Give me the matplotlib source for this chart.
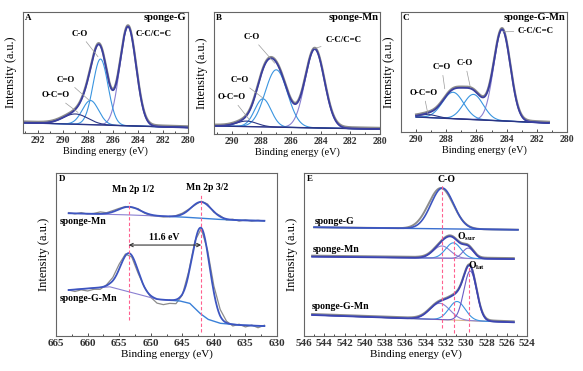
import numpy as np
import matplotlib
matplotlib.use("Agg")
import matplotlib.pyplot as plt
from matplotlib.ticker import MultipleLocator

plt.rcParams['font.family'] = ['Liberation Serif', 'DejaVu Serif']
plt.rcParams['font.weight'] = 'bold'
plt.rcParams['mathtext.fontset'] = 'custom'
plt.rcParams['mathtext.rm'] = 'Liberation Serif:bold'
plt.rcParams['mathtext.it'] = 'Liberation Serif:bold'
plt.rcParams['mathtext.bf'] = 'Liberation Serif:bold'

W, H = 583, 371

# ---------------- data ----------------
# A: sponge-G, C 1s  (peak centre eV, height, sigma eV)
a_span = (293.2, 280.0)
a_bg = (0.085, 0.045)
a_center = [284.8, 287.0, 287.8, 289.0]
a_height = [0.82, 0.545, 0.20, 0.085]
a_sigma = [0.65, 0.60, 0.65, 1.0]

# B: sponge-Mn, C 1s
b_span = (291.2, 280.0)
b_bg = (0.066, 0.040)
b_center = [284.4, 287.0, 287.9, 289.0]
b_height = [0.645, 0.47, 0.23, 0.045]
b_sigma = [0.65, 0.75, 0.55, 0.7]

# C: sponge-G-Mn, C 1s
c_span = (290.0, 281.2)
c_bg = (0.125, 0.075)
c_center = [284.3, 286.2, 287.55, 289.2]
c_height = [0.76, 0.21, 0.22, 0.025]
c_sigma = [0.55, 0.65, 0.70, 0.6]

c1s_labels = ["C-C/C=C", "C-O", "C=O", "O-C=O"]

# D: Mn 2p
d_top_bg_x = [663, 655, 650, 645, 640, 636, 632]
d_top_bg_y = [0.753, 0.745, 0.738, 0.730, 0.717, 0.710, 0.707]
d_top_center = [653.4, 642.0]
d_top_height = [0.05, 0.10]
d_top_sigma = [1.7, 1.6]

d_bot_bg_x = [663.0, 656.5, 653.5, 649.0, 645.4, 643.8, 642.2, 640.9, 639.0, 635.9, 632.0]
d_bot_bg_y = [0.282, 0.302, 0.272, 0.225, 0.215, 0.200, 0.139, 0.102, 0.078, 0.067, 0.061]
d_bot_center = [653.4, 642.0]
d_bot_height = [0.237, 0.53]
d_bot_sigma = [1.4, 1.35]

d_raw_x = np.arange(663, 631, -1)
d_top_resid = [0.004, -0.003, 0.006, -0.002, 0.003, 0.012, 0.004, 0.008,
               0.006, 0.004, -0.003, 0.005, -0.004, -0.006, -0.003, -0.005,
               -0.002, 0.003, 0.006, 0.004, -0.004, 0.005, 0.008, -0.004,
               0.006, -0.007, 0.004, -0.005, 0.003, -0.004, 0.002, -0.002]
d_bot_resid = [0.0, -0.012, -0.005, -0.015, -0.008, -0.012, 0.005, 0.02,
               0.03, 0.01, -0.01, -0.015, 0.0, -0.01, -0.025, -0.03,
               -0.02, -0.025, -0.005, 0.015, 0.01, -0.005, 0.02, 0.04,
               0.04, 0.01, -0.01, 0.005, -0.01, 0.003, -0.012, 0.005]

# E: O 1s
e_top_span = (545.0, 524.9)
e_top_bg = (0.667, 0.652)
e_top_fit = (532.35, 0.25, 1.12)
e_top_raw = (532.5, 0.25, 1.22)

e_mid_span = (545.2, 525.3)
e_mid_bg = (0.487, 0.472)
e_mid_center = [532.4, 531.27, 529.8]
e_mid_height = [0.075, 0.095, 0.064]
e_mid_sigma = [0.85, 0.75, 0.55]

e_bot_span = (545.2, 525.3)
e_bot_bg = (0.129, 0.084)
e_bot_center = [532.6, 530.9, 529.6]
e_bot_height = [0.10, 0.115, 0.305]
e_bot_sigma = [1.0, 0.8, 0.63]

# ---------------- helpers ----------------
GRAY = '#8c8c8c'
ENV = '#3b3f9f'
LAV = '#8a80d2'
BLUE = '#3a95e0'
NAVY = '#2a3585'
PINK = '#ff5f8f'


def box(l, t, r, b):
    return [l / W, 1 - b / H, (r - l) / W, (b - t) / H]


def peak(x, c, h, s):
    return h * np.exp(-(x - c) ** 2 / (2 * s ** 2))


def style(ax, xlim, major, minor, fs_tick, fs_xl, fs_yl, letter):
    ax.set_xlim(*xlim)
    ax.set_ylim(0, 1)
    ax.set_yticks([])
    ax.xaxis.set_major_locator(MultipleLocator(major))
    ax.xaxis.set_minor_locator(MultipleLocator(minor))
    ax.tick_params(axis='x', which='major', direction='in', length=2.5,
                   width=0.6, labelsize=fs_tick, pad=2, colors='#333')
    ax.tick_params(axis='x', which='minor', direction='in', length=1.3, width=0.5)
    for sp in ax.spines.values():
        sp.set_color('#666')
        sp.set_linewidth(0.8)
    ax.set_xlabel("Binding energy (eV)", fontsize=fs_xl, labelpad=1)
    ax.set_ylabel("Intensity (a.u.)", fontsize=fs_yl, labelpad=4)
    ax.text(0.012, 0.985, letter, transform=ax.transAxes, ha='left', va='top',
            fontsize=6.5)


def c1s(ax, span, bg, centers, heights, sigmas, colors):
    x = np.linspace(span[0], span[1], 600)
    base = np.linspace(bg[0], bg[1], x.size)
    comps = [peak(x, c, h, s) for c, h, s in zip(centers, heights, sigmas)]
    env = base + np.sum(comps, axis=0)
    ax.plot(x, env + 0.01, color=GRAY, lw=1.6)
    for comp, col in zip(comps, colors):
        ax.plot(x, base + comp, color=col, lw=0.8)
    ax.plot(x, base, color=NAVY, lw=1.0)
    ax.plot(x, env, color=ENV, lw=1.3)


def lead(ax, text, xy, xytext, fs, ha='center'):
    ax.annotate(text, xy=xy, xytext=xytext, fontsize=fs, ha=ha, va='center',
                arrowprops=dict(arrowstyle='-', color='#9a9a9a', lw=0.5,
                                shrinkA=1, shrinkB=0))


fig = plt.figure(figsize=(W / 100, H / 100), dpi=100)
fs_t, fs_xl, fs_yl, fs_a, fs_s = 7.0, 7.4, 8.8, 6.4, 7.6

# ---- A ----
ax = fig.add_axes(box(23, 12, 188, 133))
c1s(ax, a_span, a_bg, a_center, a_height, a_sigma, [LAV, BLUE, BLUE, NAVY])
style(ax, (293.2, 280.0), 2, 1, fs_t, fs_xl, fs_yl, 'A')
ax.text(0.99, 0.99, "sponge-G", transform=ax.transAxes, ha='right', va='top', fontsize=fs_s)
ax.text(284.2, 0.82, c1s_labels[0], fontsize=fs_a, ha='left', va='center')
lead(ax, c1s_labels[1], (287.2, 0.63), (288.64, 0.82), fs_a)
lead(ax, c1s_labels[2], (287.9, 0.27), (289.76, 0.44), fs_a)
lead(ax, c1s_labels[3], (288.8, 0.17), (290.6, 0.31), fs_a)

# ---- B ----
ax = fig.add_axes(box(214, 12, 380, 134))
c1s(ax, b_span, b_bg, b_center, b_height, b_sigma, [LAV, BLUE, BLUE, NAVY])
style(ax, (291.2, 280.0), 2, 1, fs_t, fs_xl, fs_yl, 'B')
ax.text(0.99, 0.99, "sponge-Mn", transform=ax.transAxes, ha='right', va='top', fontsize=fs_s)
lead(ax, c1s_labels[0], (284.45, 0.70), (283.7, 0.77), fs_a, ha='left')
lead(ax, c1s_labels[1], (287.1, 0.58), (288.65, 0.795), fs_a)
lead(ax, c1s_labels[2], (287.9, 0.295), (289.46, 0.44), fs_a)
lead(ax, c1s_labels[3], (288.8, 0.115), (290.0, 0.30), fs_a)

# ---- C ----
ax = fig.add_axes(box(401, 12, 567, 132))
c1s(ax, c_span, c_bg, c_center, c_height, c_sigma, [LAV, BLUE, BLUE, NAVY])
style(ax, (291.0, 280.0), 2, 1, fs_t, fs_xl, fs_yl, 'C')
ax.text(0.99, 0.99, "sponge-G-Mn", transform=ax.transAxes, ha='right', va='top', fontsize=fs_s)
lead(ax, c1s_labels[0], (284.25, 0.835), (283.25, 0.84), fs_a, ha='left')
lead(ax, c1s_labels[1], (286.4, 0.37), (286.75, 0.575), fs_a)
lead(ax, c1s_labels[2], (288.1, 0.36), (288.3, 0.54), fs_a)
lead(ax, c1s_labels[3], (289.2, 0.14), (289.5, 0.325), fs_a)

# ---- D ----
fs_t2, fs_xl2, fs_yl2, fs_a2 = 8.0, 8.0, 9.0, 7.0
ax = fig.add_axes(box(56, 173, 277, 336))
for bgx, bgy, cen, hgt, sig, res in [
        (d_top_bg_x, d_top_bg_y, d_top_center, d_top_height, d_top_sigma, d_top_resid),
        (d_bot_bg_x, d_bot_bg_y, d_bot_center, d_bot_height, d_bot_sigma, d_bot_resid)]:
    x = np.linspace(663, 632, 500)
    base = np.interp(x, bgx[::-1], bgy[::-1])
    env = base + sum(peak(x, c, h, s) for c, h, s in zip(cen, hgt, sig))
    rbase = np.interp(d_raw_x, bgx[::-1], bgy[::-1])
    raw = rbase + sum(peak(d_raw_x, c, h, s) for c, h, s in zip(cen, hgt, sig)) + np.array(res)
    ax.plot(d_raw_x, raw, color=GRAY, lw=0.9)
    left = x >= 647
    ax.plot(x[left], base[left], color=LAV, lw=0.8)
    ax.plot(x[~left], base[~left], color='#3a80d8', lw=1.0)
    ax.plot(x, env, color='#3d55c0', lw=1.3)
style(ax, (665, 630), 5, 2.5, fs_t2, fs_xl2, fs_yl2, 'D')
ax.plot([653.5, 653.5], [0.098, 0.82], color=PINK, lw=0.8, ls=(0, (3, 2)))
ax.plot([642.0, 642.0], [0.025, 0.877], color=PINK, lw=0.8, ls=(0, (3, 2)))
ax.annotate('', xy=(653.5, 0.558), xytext=(642.0, 0.558),
            arrowprops=dict(arrowstyle='<->', color='#333', lw=0.8,
                            mutation_scale=6, shrinkA=0, shrinkB=0))
ax.text(647.8, 0.607, "11.6 eV", fontsize=fs_a2, ha='center', va='center')
ax.text(652.8, 0.896, "Mn 2p 1/2", fontsize=fs_a2, ha='center', va='center')
ax.text(641.1, 0.908, "Mn 2p 3/2", fontsize=fs_a2, ha='center', va='center')
ax.text(664.4, 0.70, "sponge-Mn", fontsize=fs_a2, ha='left', va='center')
ax.text(664.4, 0.228, "sponge-G-Mn", fontsize=fs_a2, ha='left', va='center')

# ---- E ----
ax = fig.add_axes(box(304, 173, 527, 336))
x = np.linspace(e_top_span[0], e_top_span[1], 600)
base = np.linspace(e_top_bg[0], e_top_bg[1], x.size)
ax.plot(x, base + peak(x, *e_top_raw), color=GRAY, lw=1.4)
ax.plot(x, base, color='#3a6fd0', lw=1.0)
ax.plot(x, base + peak(x, *e_top_fit), color='#3d55c0', lw=1.2)

for span, bg, cen, hgt, sig, cols, bgcol in [
        (e_mid_span, e_mid_bg, e_mid_center, e_mid_height, e_mid_sigma,
         [LAV, BLUE, '#7a6cc8'], '#b9a0d8'),
        (e_bot_span, e_bot_bg, e_bot_center, e_bot_height, e_bot_sigma,
         [LAV, BLUE, '#6a5cc6'], '#d8b98f')]:
    x = np.linspace(span[0], span[1], 600)
    base = np.linspace(bg[0], bg[1], x.size)
    comps = [peak(x, c, h, s) for c, h, s in zip(cen, hgt, sig)]
    env = base + np.sum(comps, axis=0)
    ax.plot(x, env + 0.006, color=GRAY, lw=1.4)
    ax.plot(x, base, color=bgcol, lw=0.8)
    for comp, col in zip(comps, cols):
        ax.plot(x, base + comp, color=col, lw=0.8)
    ax.plot(x, env, color='#3d45b0', lw=1.3)

style(ax, (546, 524), 2, 1, fs_t2, fs_xl2, fs_yl2, 'E')
for xv, y0, y1 in [(532.4, 0.05, 0.926), (531.17, 0.02, 0.59), (529.7, 0.026, 0.425)]:
    ax.plot([xv, xv], [y0, y1], color=PINK, lw=0.8, ls=(0, (3, 2)))
ax.text(531.9, 0.962, "C-O", fontsize=fs_a2, ha='center', va='center')
ax.text(544.9, 0.70, "sponge-G", fontsize=fs_a2, ha='left', va='center')
ax.text(545.1, 0.53, "sponge-Mn", fontsize=fs_a2, ha='left', va='center')
ax.text(545.2, 0.18, "sponge-G-Mn", fontsize=fs_a2, ha='left', va='center')
ax.text(530.93, 0.61, r"O$_{\mathrm{sur}}$", fontsize=fs_a2, ha='left', va='center')
ax.text(529.8, 0.43, r"O$_{\mathrm{lat}}$", fontsize=fs_a2, ha='left', va='center')

fig.savefig("out.png", dpi=100)
